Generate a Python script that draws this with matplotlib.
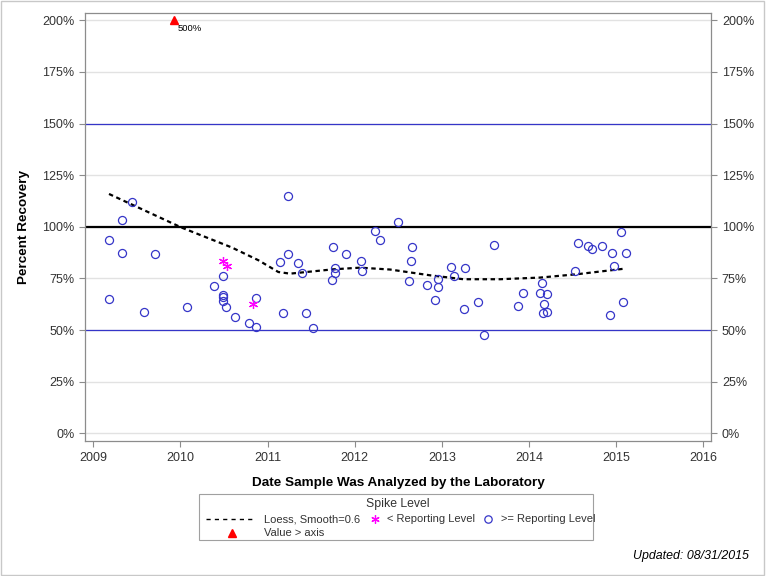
import matplotlib
matplotlib.use("Agg")
import matplotlib.pyplot as plt
from matplotlib.lines import Line2D
from matplotlib.patches import Rectangle

plt.rcParams['font.family'] = ['Liberation Sans', 'DejaVu Sans']

# ---- data (decimal year, percent recovery) ----
ge_dates = [2011.231, 2009.448, 2009.333, 2009.180, 2009.333, 2009.708, 2011.143, 2011.231,
            2010.492, 2010.389, 2010.492, 2010.492, 2010.492, 2010.519, 2009.180, 2009.585,
            2010.079, 2010.626, 2010.787, 2010.871, 2010.871, 2011.177, 2012.500, 2012.236,
            2012.290, 2011.751, 2012.661, 2013.598, 2011.903, 2012.075, 2012.649, 2011.353,
            2011.398, 2011.777, 2011.774, 2012.087, 2011.743, 2012.626, 2013.108, 2013.266,
            2013.143, 2012.959, 2012.833, 2012.959, 2012.925, 2013.418, 2013.254, 2011.441,
            2011.525, 2013.487, 2015.059, 2014.566, 2014.680, 2014.726, 2014.841, 2014.956,
            2015.117, 2014.979, 2014.531, 2014.153, 2013.935, 2014.130, 2014.203, 2013.877,
            2014.176, 2015.082, 2014.164, 2014.203, 2014.933]
ge_values = [114.8, 112.2, 103.5, 93.5, 87.5, 87.0, 83.0, 86.7,
             76.4, 71.5, 66.8, 66.0, 63.9, 61.0, 64.9, 58.9,
             61.0, 56.2, 53.6, 65.4, 51.5, 58.4, 102.5, 98.2,
             93.8, 90.4, 90.4, 91.4, 87.0, 83.6, 83.3, 82.7,
             77.8, 79.9, 77.8, 78.8, 74.4, 73.9, 80.7, 80.2,
             76.0, 74.9, 72.0, 70.6, 64.3, 63.8, 60.4, 58.4,
             51.2, 47.8, 97.7, 92.3, 90.9, 89.0, 90.9, 87.5,
             87.5, 81.2, 78.4, 73.0, 68.1, 68.1, 67.6, 61.8,
             62.8, 63.8, 58.0, 58.9, 57.5]

lt_dates = [2010.492, 2010.531, 2010.836]
lt_values = [83.3, 81.2, 62.8]

over_dates = [2009.926]
over_values = [200.0]
over_labels = ["500%"]

loess_dates = [2009.180, 2010.014, 2010.588, 2010.894, 2011.123, 2011.257, 2011.754,
               2012.061, 2012.405, 2012.864, 2013.246, 2013.668, 2014.126, 2014.547, 2015.113]
loess_values = [115.9, 99.6, 90.0, 83.8, 78.1, 77.3, 79.4,
                80.2, 79.3, 76.5, 74.6, 74.6, 75.4, 77.0, 79.8]

x_ticks = [2009, 2010, 2011, 2012, 2013, 2014, 2015, 2016]
y_ticks = [0, 25, 50, 75, 100, 125, 150, 175, 200]
ref_blue = [50, 150]
ref_black = 100

W, H = 768, 576
fig = plt.figure(figsize=(W / 100, H / 100), dpi=100)

def fx(px):
    return px / W

def fy(py):
    return 1 - py / H

ax_l, ax_r, ax_t, ax_b = 85.3, 711.0, 13.3, 441.3
ax = fig.add_axes([fx(ax_l), fy(ax_b), fx(ax_r - ax_l), (ax_b - ax_t) / H])

gray = '#8c8c8c'
blue = '#3535c8'
txtc = '#333333'

ax.set_xlim(2008.908, 2016.088)
ax.set_ylim(-3.9, 203.4)

for y in y_ticks:
    ax.axhline(y, color='#e2e2e2', lw=1.0, zorder=0)
for y in ref_blue:
    ax.axhline(y, color=blue, lw=0.9, zorder=1)
ax.axhline(ref_black, color='black', lw=1.6, zorder=1)

ax.plot(loess_dates, loess_values, color='black', lw=1.6, ls=(0, (2.0, 1.6)), zorder=2)
ax.plot(ge_dates, ge_values, ls='none', marker='o', ms=5.8, mfc='none', mec=blue, mew=0.9, zorder=3)
ax.plot(lt_dates, lt_values, ls='none', marker=(6, 2, 0), ms=6.5, color='#ff00ff', mew=0.9, zorder=3)
ax.plot(over_dates, over_values, ls='none', marker='^', ms=5.3, color='red', clip_on=False, zorder=4)
for d, v, lab in zip(over_dates, over_values, over_labels):
    ax.annotate(lab, (d, v), xytext=(2.5, -6), textcoords='offset points',
                fontsize=6.8, va='center', ha='left', color='black')

ax.set_xticks(x_ticks)
ax.set_xticklabels([str(t) for t in x_ticks])
ax.set_yticks(y_ticks)
ax.set_yticklabels([f"{t}%" for t in y_ticks])
ax.tick_params(axis='both', direction='out', length=4.3, width=0.8, color=gray,
               labelsize=9, labelcolor=txtc, pad=3.5)
ax.tick_params(axis='y', right=True, labelright=True)
for s in ax.spines.values():
    s.set_color(gray)
    s.set_linewidth(0.9)

ax.set_xlabel("Date Sample Was Analyzed by the Laboratory", fontsize=9.7, fontweight='bold', labelpad=9)
ax.set_ylabel("Percent Recovery", fontsize=9.7, fontweight='bold', labelpad=9)

# ---- legend (manual, pixel coords) ----
lg = fig.add_axes([0, 0, 1, 1], zorder=5)
lg.set_xlim(0, W)
lg.set_ylim(H, 0)
lg.axis('off')
lg.add_patch(Rectangle((199, 493.5), 394, 46.5, fill=False, ec='#a0a0a0', lw=0.8))
lg.text(398.3, 504, "Spike Level", fontsize=8.8, ha='center', va='center', color=txtc)
r1, r2 = 519.3, 533.3
lg.add_line(Line2D([206, 255], [r1, r1], color='black', lw=1.0, ls=(0, (3, 3))))
lg.text(264, r1, "Loess, Smooth=0.6", fontsize=8, va='center', color=txtc)
lg.plot([375], [r1], marker=(6, 2, 0), ms=6, color='#ff00ff', mew=0.9)
lg.text(386.7, r1, "< Reporting Level", fontsize=8, va='center', color=txtc)
lg.plot([488], [r1], marker='o', ms=5.3, mfc='none', mec=blue, mew=0.9)
lg.text(501, r1, ">= Reporting Level", fontsize=8, va='center', color=txtc)
lg.plot([231.7], [r2], marker='^', ms=5.3, color='red')
lg.text(264, r2, "Value > axis", fontsize=8, va='center', color=txtc)

lg.text(749, 556.5, "Updated: 08/31/2015", fontsize=8.9, style='italic', ha='right', va='center', color='black')
lg.add_patch(Rectangle((0.5, 0.5), 763, 574, fill=False, ec='#c8c8c8', lw=1.0))

fig.savefig("out.png", dpi=100)
